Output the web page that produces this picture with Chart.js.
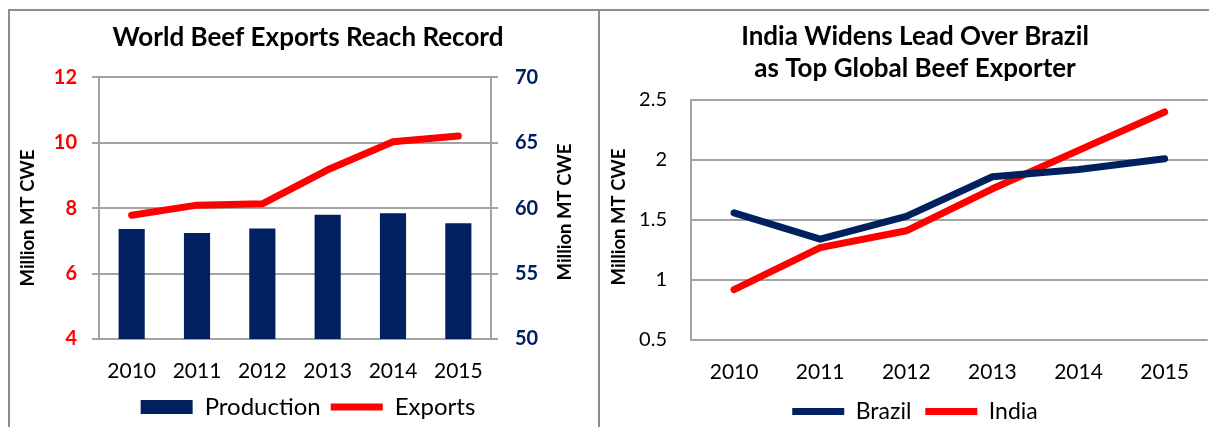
<!DOCTYPE html>
<html lang="en">
<head>
<meta charset="UTF-8">
<title>Beef Exports</title>
<script src="https://cdn.jsdelivr.net/npm/chart.js"></script>
<style>
  html, body { margin: 0; padding: 0; background: #fff; overflow: hidden; }
  body { width: 1209px; height: 427px; position: relative; font-family: Lato, sans-serif; }
  #panelLeft { position: absolute; left: 8px; top: 9px; width: 588px; height: 430px; border: 2px solid #8c8c8c; }
  #panelRight { position: absolute; left: 598px; top: 9px; width: 620px; height: 430px; border-top: 2px solid #8c8c8c; }
  canvas { position: absolute; }
  #beefChart { left: 10px; top: 12px; }
  #exporterChart { left: 600px; top: 12px; }
</style>
</head>
<body>
<div id="panelLeft"></div>
<div id="panelRight"></div>
<canvas id="beefChart" width="586" height="425"></canvas>
<canvas id="exporterChart" width="609" height="425"></canvas>
<script>
// values
const years = ['2010', '2011', '2012', '2013', '2014', '2015'];
const production = [58.4, 58.1, 58.45, 59.5, 59.6, 58.85];   // right axis
const exportsWorld = [7.78, 8.09, 8.13, 9.17, 10.03, 10.2];  // left axis
const brazil = [1.56, 1.34, 1.53, 1.86, 1.92, 2.01];
const india = [0.92, 1.27, 1.41, 1.76, 2.08, 2.40];

const exportTicks = [4, 6, 8, 10, 12];
const productionTicks = [50, 55, 60, 65, 70];
const shareTicks = [0.5, 1, 1.5, 2, 2.5];

const NAVY = '#002060';
const RED = '#ff0000';
const GRID = '#a3a3a3';

Chart.defaults.font.family = 'Lato, sans-serif';
Chart.defaults.color = '#000';
Chart.defaults.animation = false;

// vertical axis titles, both reading bottom to top
const axisTitles = {
  id: 'axisTitles',
  afterDraw(chart, args, opts) {
    const ctx = chart.ctx;
    (opts.items || []).forEach(t => {
      ctx.save();
      ctx.translate(t.x, t.y);
      ctx.rotate(-Math.PI / 2);
      ctx.font = 'bold 18.5px Lato, sans-serif';
      ctx.fillStyle = '#000';
      ctx.textAlign = 'center';
      ctx.textBaseline = 'middle';
      ctx.fillText(t.text, 0, 0);
      ctx.restore();
    });
  }
};

function fixedTicks(list) {
  return s => { s.ticks = list.map(v => ({ value: v })); };
}

new Chart(document.getElementById('beefChart'), {
  type: 'bar',
  data: {
    labels: years,
    datasets: [
      {
        label: 'Production',
        data: production,
        yAxisID: 'yProd',
        backgroundColor: NAVY,
        barPercentage: 0.8,
        categoryPercentage: 0.5,
        pointStyle: 'rect'
      },
      {
        type: 'line',
        label: 'Exports',
        data: exportsWorld,
        yAxisID: 'yExp',
        borderColor: RED,
        backgroundColor: RED,
        borderWidth: 7,
        borderCapStyle: 'round',
        borderJoinStyle: 'round',
        pointRadius: 0,
        pointStyle: 'line'
      }
    ]
  },
  options: {
    responsive: false,
    events: [],
    layout: { padding: { left: 10, right: 0, top: 0, bottom: 8 }, autoPadding: false },
    plugins: {
      tooltip: { enabled: false },
      title: {
        display: true,
        text: 'World Beef Exports Reach Record',
        font: { size: 26, weight: 'bold', lineHeight: 1.2 },
        padding: { top: 10, bottom: 24 }
      },
      legend: {
        position: 'bottom',
        labels: {
          usePointStyle: true,
          pointStyleWidth: 52,
          boxHeight: 14,
          padding: 10,
          font: { size: 24 }
        }
      },
      axisTitles: {
        items: [
          { text: 'Million MT CWE', x: 18, y: 206 },
          { text: 'Million MT CWE', x: 555, y: 200 }
        ]
      }
    },
    scales: {
      x: {
        offset: true,
        grid: { display: false, drawTicks: false },
        border: { display: false },
        ticks: { padding: 20, font: { size: 21 } },
        afterFit: s => { s.height = 46; }
      },
      yExp: {
        position: 'left',
        min: 4, max: 12,
        afterBuildTicks: fixedTicks(exportTicks),
        grid: { color: GRID, lineWidth: 2, tickLength: 7 },
        border: { color: GRID, width: 2 },
        ticks: { color: RED, padding: 15, font: { size: 20, weight: 'bold' } },
        afterFit: s => { s.width = 79; }
      },
      yProd: {
        position: 'right',
        min: 50, max: 70,
        afterBuildTicks: fixedTicks(productionTicks),
        grid: { color: GRID, lineWidth: 2, tickLength: 7, drawOnChartArea: false },
        border: { color: GRID, width: 2 },
        ticks: { color: NAVY, padding: 17, font: { size: 20, weight: 'bold' } },
        afterFit: s => { s.width = 105; }
      }
    }
  },
  plugins: [axisTitles]
});

new Chart(document.getElementById('exporterChart'), {
  type: 'line',
  data: {
    labels: years,
    datasets: [
      {
        label: 'Brazil',
        data: brazil,
        borderColor: NAVY,
        backgroundColor: NAVY,
        borderWidth: 7,
        borderCapStyle: 'round',
        borderJoinStyle: 'round',
        pointRadius: 0,
        pointStyle: 'line'
      },
      {
        label: 'India',
        data: india,
        borderColor: RED,
        backgroundColor: RED,
        borderWidth: 7,
        borderCapStyle: 'round',
        borderJoinStyle: 'round',
        pointRadius: 0,
        pointStyle: 'line'
      }
    ]
  },
  options: {
    responsive: false,
    events: [],
    layout: { padding: { left: 21, right: 0, top: 0, bottom: 4 }, autoPadding: false },
    plugins: {
      tooltip: { enabled: false },
      title: {
        display: true,
        text: ['India Widens Lead Over Brazil', 'as Top Global Beef Exporter'],
        font: { size: 26, weight: 'bold', lineHeight: 1.23 },
        padding: { top: 9, bottom: 15 }
      },
      legend: {
        position: 'bottom',
        labels: {
          usePointStyle: true,
          pointStyleWidth: 52,
          boxHeight: 14,
          padding: 14,
          font: { size: 23 }
        }
      },
      axisTitles: {
        items: [{ text: 'Million MT CWE', x: 19, y: 205 }]
      }
    },
    scales: {
      x: {
        offset: true,
        grid: { display: false, drawTicks: false },
        border: { display: false },
        ticks: { padding: 20, font: { size: 21 } },
        afterFit: s => { s.height = 46; }
      },
      y: {
        min: 0.5, max: 2.5,
        afterBuildTicks: fixedTicks(shareTicks),
        grid: { color: GRID, lineWidth: 2, drawTicks: false },
        border: { color: GRID, width: 2 },
        ticks: { padding: 24, font: { size: 20 }, callback: v => String(v) },
        afterFit: s => { s.width = 70; }
      }
    }
  },
  plugins: [axisTitles]
});
</script>
</body>
</html>
